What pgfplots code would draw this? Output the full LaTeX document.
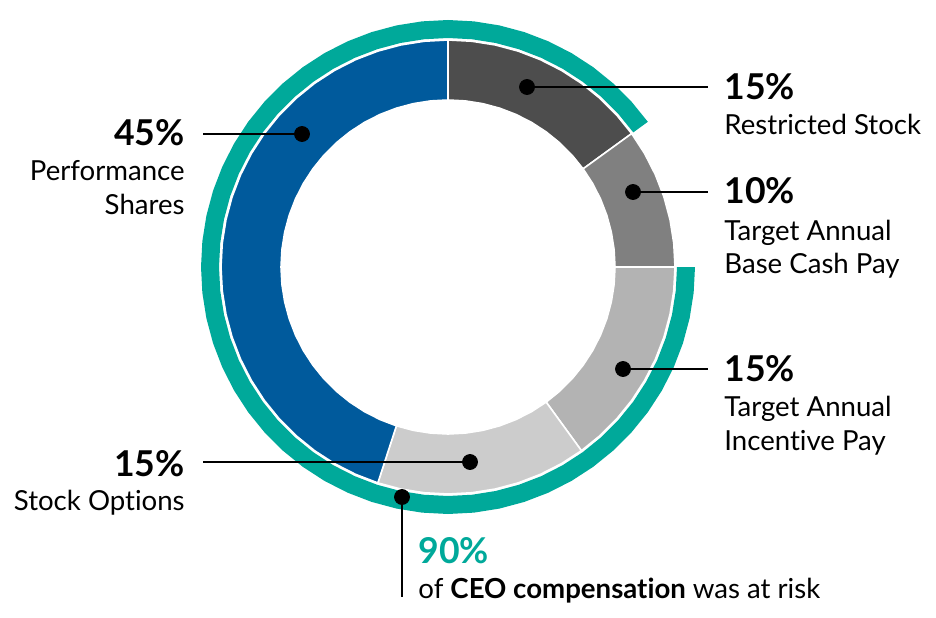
\documentclass[border=0pt]{standalone}
\usepackage{pgfplots}
\pgfplotsset{compat=1.18}
\usepackage{fontspec}
\setmainfont{Lato}[Ligatures={NoCommon}, RawFeature={-liga;-dlig}]
\definecolor{cblue}{HTML}{005A9C}
\definecolor{cdark}{HTML}{4D4D4D}
\definecolor{cmid}{HTML}{808080}
\definecolor{clight}{HTML}{B3B3B3}
\definecolor{clighter}{HTML}{CCCCCC}
\definecolor{cteal}{HTML}{00A99A}
\newcommand{\pct}{\fontsize{17.8}{20}\selectfont\bfseries}
\newcommand{\lab}{\fontsize{13.8}{17}\selectfont}
\begin{document}
\begin{tikzpicture}
\begin{axis}[
  scale only axis, width=468pt, height=308.5pt,
  xmin=-448, xmax=488, ymin=-350, ymax=267,
  hide axis, clip=false,
]
\path (rel axis cs:0,0) rectangle (rel axis cs:1,1);
% green "at risk" ring: 90% = 324 degrees, from 36 to 360
\addplot[fill=cteal, draw=none, data cs=polar] coordinates {
(36,247)(42,247)(48,247)(54,247)(60,247)(66,247)(72,247)(78,247)(84,247)(90,247)
(96,247)(102,247)(108,247)(114,247)(120,247)(126,247)(132,247)(138,247)(144,247)(150,247)
(156,247)(162,247)(168,247)(174,247)(180,247)(186,247)(192,247)(198,247)(204,247)(210,247)
(216,247)(222,247)(228,247)(234,247)(240,247)(246,247)(252,247)(258,247)(264,247)(270,247)
(276,247)(282,247)(288,247)(294,247)(300,247)(306,247)(312,247)(318,247)(324,247)(330,247)
(336,247)(342,247)(348,247)(354,247)(360,247)
(360,229)(354,229)(348,229)(342,229)(336,229)(330,229)(324,229)(318,229)(312,229)(306,229)
(300,229)(294,229)(288,229)(282,229)(276,229)(270,229)(264,229)(258,229)(252,229)(246,229)
(240,229)(234,229)(228,229)(222,229)(216,229)(210,229)(204,229)(198,229)(192,229)(186,229)
(180,229)(174,229)(168,229)(162,229)(156,229)(150,229)(144,229)(138,229)(132,229)(126,229)
(120,229)(114,229)(108,229)(102,229)(96,229)(90,229)(84,229)(78,229)(72,229)(66,229)
(60,229)(54,229)(48,229)(42,229)(36,229)
} -- cycle;
% Restricted Stock 15%: 36..90
\addplot[fill=cdark, draw=white, line width=0.8pt, data cs=polar] coordinates {
(36,227)(42,227)(48,227)(54,227)(60,227)(66,227)(72,227)(78,227)(84,227)(90,227)
(90,167)(84,167)(78,167)(72,167)(66,167)(60,167)(54,167)(48,167)(42,167)(36,167)
} -- cycle;
% Target Annual Base Cash Pay 10%: 0..36
\addplot[fill=cmid, draw=white, line width=0.8pt, data cs=polar] coordinates {
(0,227)(6,227)(12,227)(18,227)(24,227)(30,227)(36,227)
(36,167)(30,167)(24,167)(18,167)(12,167)(6,167)(0,167)
} -- cycle;
% Target Annual Incentive Pay 15%: -54..0
\addplot[fill=clight, draw=white, line width=0.8pt, data cs=polar] coordinates {
(-54,227)(-48,227)(-42,227)(-36,227)(-30,227)(-24,227)(-18,227)(-12,227)(-6,227)(0,227)
(0,167)(-6,167)(-12,167)(-18,167)(-24,167)(-30,167)(-36,167)(-42,167)(-48,167)(-54,167)
} -- cycle;
% Stock Options 15%: -108..-54
\addplot[fill=clighter, draw=white, line width=0.8pt, data cs=polar] coordinates {
(-108,227)(-102,227)(-96,227)(-90,227)(-84,227)(-78,227)(-72,227)(-66,227)(-60,227)(-54,227)
(-54,167)(-60,167)(-66,167)(-72,167)(-78,167)(-84,167)(-90,167)(-96,167)(-102,167)(-108,167)
} -- cycle;
% Performance Shares 45%: 90..252
\addplot[fill=cblue, draw=white, line width=0.8pt, data cs=polar] coordinates {
(90,227)(96,227)(102,227)(108,227)(114,227)(120,227)(126,227)(132,227)(138,227)(144,227)
(150,227)(156,227)(162,227)(168,227)(174,227)(180,227)(186,227)(192,227)(198,227)(204,227)
(210,227)(216,227)(222,227)(228,227)(234,227)(240,227)(246,227)(252,227)
(252,167)(246,167)(240,167)(234,167)(228,167)(222,167)(216,167)(210,167)(204,167)(198,167)
(192,167)(186,167)(180,167)(174,167)(168,167)(162,167)(156,167)(150,167)(144,167)(138,167)
(132,167)(126,167)(120,167)(114,167)(108,167)(102,167)(96,167)(90,167)
} -- cycle;
% leader lines
\addplot[black, line width=1pt] coordinates {(79,180) (260,180)};
\addplot[black, line width=1pt] coordinates {(185,75) (260,75)};
\addplot[black, line width=1pt] coordinates {(175,-102) (260,-102)};
\addplot[black, line width=1pt] coordinates {(-245,133) (-146,133)};
\addplot[black, line width=1pt] coordinates {(-245,-195) (22,-195)};
\addplot[black, line width=1pt] coordinates {(-46,-230) (-46,-330)};
\addplot[only marks, mark=*, mark size=3.75pt, black] coordinates {
(79,180) (185,75) (175,-102) (-146,133) (22,-195) (-46,-230)};
% labels
\node[anchor=base west, inner sep=0pt] at (axis cs:276,167) {\pct 15\%};
\node[anchor=base west, inner sep=0pt] at (axis cs:276,132) {\lab Restricted Stock};
\node[anchor=base west, inner sep=0pt] at (axis cs:276,64) {\pct 10\%};
\node[anchor=base west, inner sep=0pt] at (axis cs:276,27) {\lab Target Annual};
\node[anchor=base west, inner sep=0pt] at (axis cs:276,-6) {\lab Base Cash Pay};
\node[anchor=base west, inner sep=0pt] at (axis cs:276,-114.7) {\pct 15\%};
\node[anchor=base west, inner sep=0pt] at (axis cs:276,-149.7) {\lab Target Annual};
\node[anchor=base west, inner sep=0pt] at (axis cs:276,-183) {\lab Incentive Pay};
\node[anchor=base east, inner sep=0pt] at (axis cs:-263,122) {\pct 45\%};
\node[anchor=base east, inner sep=0pt] at (axis cs:-263,87) {\lab Performance};
\node[anchor=base east, inner sep=0pt] at (axis cs:-263,52) {\lab Shares};
\node[anchor=base east, inner sep=0pt] at (axis cs:-263,-209) {\pct 15\%};
\node[anchor=base east, inner sep=0pt] at (axis cs:-263,-243) {\lab Stock Options};
\node[anchor=base west, inner sep=0pt, text=cteal] at (axis cs:-30,-296) {\pct 90\%};
\node[anchor=base west, inner sep=0pt] at (axis cs:-30,-331) {\lab of \textbf{CEO compensation} was at risk};
\end{axis}
\end{tikzpicture}
\end{document}
